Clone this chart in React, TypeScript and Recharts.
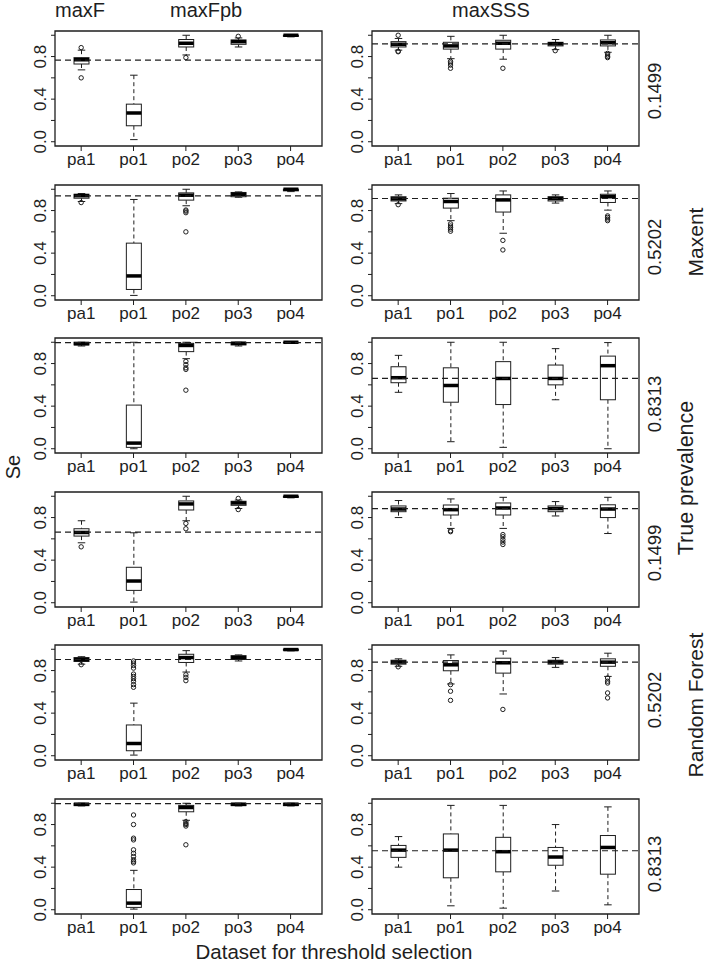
import { ComposedChart, Bar, Scatter, XAxis, YAxis, ReferenceLine, ReferenceArea } from "recharts";

const FONT = "'Liberation Sans', Arial, Helvetica, sans-serif";
const INK = "#1e1e1e";

const categories = ["pa1", "po1", "po2", "po3", "po4"];
const yTicks = [0, 0.2, 0.4, 0.6, 0.8, 1.0];
const yTickLabels = ["0.0", "", "0.4", "", "0.8", ""];
const panelTitles = ["maxF", "maxFpb", "maxSSS"];
const prevalences = ["0.1499", "0.5202", "0.8313", "0.1499", "0.5202", "0.8313"];
const models = ["Maxent", "Random Forest"];

// each box: [lower whisker, q1, median, q3, upper whisker]
const maxent1499Fpb = [
  [0.675, 0.73, 0.77, 0.79, 0.86],
  [0.02, 0.15, 0.27, 0.353, 0.625],
  [0.815, 0.89, 0.925, 0.96, 1.0],
  [0.89, 0.915, 0.94, 0.956, 0.975],
  [0.985, 0.99, 1.0, 1.0, 1.0],
];
const maxent1499FpbOut = [[0.884, 0.6], [], [0.79], [0.99], []];

const maxent1499SSS = [
  [0.86, 0.89, 0.915, 0.94, 0.97],
  [0.78, 0.87, 0.9, 0.934, 0.99],
  [0.775, 0.87, 0.925, 0.953, 1.0],
  [0.865, 0.9, 0.92, 0.934, 0.96],
  [0.84, 0.9, 0.93, 0.956, 1.0],
];
const maxent1499SSSOut = [[1.0, 0.85, 0.845], [0.755, 0.74, 0.72, 0.69], [0.69], [0.855], [0.83, 0.815, 0.8, 0.79]];

const maxent5202Fpb = [
  [0.885, 0.916, 0.94, 0.953, 0.96],
  [0.003, 0.059, 0.186, 0.494, 0.904],
  [0.845, 0.898, 0.944, 0.966, 1.0],
  [0.925, 0.93, 0.953, 0.97, 0.975],
  [0.978, 0.985, 1.0, 1.0, 1.0],
];
const maxent5202FpbOut = [[0.875], [], [0.805, 0.795, 0.78, 0.6], [], []];

const maxent5202SSS = [
  [0.865, 0.89, 0.91, 0.93, 0.947],
  [0.705, 0.823, 0.885, 0.916, 0.96],
  [0.587, 0.786, 0.9, 0.947, 0.984],
  [0.87, 0.89, 0.913, 0.93, 0.947],
  [0.804, 0.876, 0.93, 0.953, 0.984],
];
const maxent5202SSSOut = [[0.855], [0.675, 0.655, 0.64, 0.625, 0.606], [0.52, 0.43], [], [0.75, 0.736, 0.72, 0.705]];

const maxent8313Fpb = [
  [0.965, 0.975, 0.987, 1.0, 1.0],
  [0.0, 0.013, 0.053, 0.41, 1.0],
  [0.846, 0.912, 0.97, 0.99, 1.0],
  [0.965, 0.975, 0.99, 1.0, 1.0],
  [0.99, 0.995, 1.0, 1.0, 1.0],
];
const maxent8313FpbOut = [[], [], [0.82, 0.79, 0.76, 0.745, 0.55], [], []];

const maxent8313SSS = [
  [0.53, 0.62, 0.667, 0.77, 0.877],
  [0.066, 0.437, 0.594, 0.76, 1.0],
  [0.013, 0.415, 0.66, 0.818, 1.0],
  [0.46, 0.6, 0.66, 0.786, 0.94],
  [0.0, 0.46, 0.78, 0.87, 0.997],
];
const maxent8313SSSOut = [[], [], [], [], []];

const rf1499Fpb = [
  [0.563, 0.626, 0.66, 0.695, 0.77],
  [0.006, 0.116, 0.204, 0.333, 0.657],
  [0.77, 0.871, 0.928, 0.956, 1.0],
  [0.885, 0.915, 0.937, 0.953, 0.965],
  [0.985, 0.99, 1.0, 1.0, 1.0],
];
const rf1499FpbOut = [[0.525], [], [0.745, 0.695], [0.98, 0.875], []];

const rf1499SSS = [
  [0.8, 0.855, 0.88, 0.909, 0.96],
  [0.698, 0.824, 0.874, 0.918, 0.975],
  [0.698, 0.824, 0.89, 0.937, 0.99],
  [0.815, 0.855, 0.884, 0.909, 0.95],
  [0.65, 0.8, 0.88, 0.92, 0.99],
];
const rf1499SSSOut = [[], [0.676, 0.667], [0.64, 0.62, 0.594, 0.57, 0.547], [], []];

const rf5202Fpb = [
  [0.86, 0.885, 0.904, 0.922, 0.93],
  [0.006, 0.047, 0.115, 0.289, 0.494],
  [0.786, 0.876, 0.922, 0.953, 0.987],
  [0.89, 0.904, 0.922, 0.94, 0.947],
  [0.985, 0.99, 0.997, 1.0, 1.0],
];
const rf5202FpbOut = [
  [0.855],
  [0.89, 0.87, 0.848, 0.823, 0.767, 0.745, 0.724, 0.7, 0.668, 0.643],
  [0.76, 0.736, 0.705],
  [],
  [],
];

const rf5202SSS = [
  [0.84, 0.86, 0.88, 0.897, 0.91],
  [0.674, 0.798, 0.854, 0.894, 0.947],
  [0.58, 0.776, 0.873, 0.916, 0.984],
  [0.83, 0.86, 0.88, 0.897, 0.922],
  [0.745, 0.84, 0.879, 0.91, 0.963],
];
const rf5202SSSOut = [[0.835], [0.668, 0.606, 0.52], [0.435], [], [0.73, 0.7, 0.683, 0.59, 0.543]];

const rf8313Fpb = [
  [0.975, 0.978, 0.99, 1.0, 1.0],
  [0.006, 0.022, 0.062, 0.19, 0.37],
  [0.84, 0.92, 0.96, 0.98, 1.0],
  [0.975, 0.978, 0.99, 1.0, 1.0],
  [0.975, 0.978, 0.99, 1.0, 1.0],
];
const rf8313FpbOut = [
  [],
  [0.89, 0.8, 0.672, 0.656, 0.563, 0.53, 0.5, 0.47, 0.455, 0.44],
  [0.827, 0.81, 0.8, 0.786, 0.61],
  [],
  [],
];

const rf8313SSS = [
  [0.4, 0.492, 0.56, 0.604, 0.687],
  [0.037, 0.3, 0.56, 0.712, 0.98],
  [0.015, 0.356, 0.545, 0.68, 0.98],
  [0.176, 0.418, 0.495, 0.585, 0.8],
  [0.046, 0.334, 0.585, 0.697, 0.966],
];
const rf8313SSSOut = [[], [], [], [], []];

// dashed reference lines, one per row
const refFpb = [0.766, 0.938, 0.997, 0.664, 0.904, 0.997];
const refSSS = [0.92, 0.913, 0.66, 0.884, 0.879, 0.554];

const fpbPanels = [maxent1499Fpb, maxent5202Fpb, maxent8313Fpb, rf1499Fpb, rf5202Fpb, rf8313Fpb];
const fpbOutliers = [maxent1499FpbOut, maxent5202FpbOut, maxent8313FpbOut, rf1499FpbOut, rf5202FpbOut, rf8313FpbOut];
const sssPanels = [maxent1499SSS, maxent5202SSS, maxent8313SSS, rf1499SSS, rf5202SSS, rf8313SSS];
const sssOutliers = [maxent1499SSSOut, maxent5202SSSOut, maxent8313SSSOut, rf1499SSSOut, rf5202SSSOut, rf8313SSSOut];

const rowTops = [31, 185, 338, 492, 645, 799];
const colLefts = [55, 372];
const PLOT_W = 267;
const PLOT_H = 115;
const Y_AXIS_W = 45;
const X_DOMAIN: [number, number] = [0.5, 5.6];
const Y_DOMAIN: [number, number] = [-0.04, 1.04];

function BoxShape(props: any) {
  const { x, y, width, height, payload } = props;
  const [lo, q1, med, q3, hi] = payload.stats;
  const span = hi - lo;
  const toY = (v: number) => (span > 0 ? y + ((hi - v) / span) * height : y);
  const cx = x + width / 2;
  const cap = width / 4;
  return (
    <g>
      <line x1={cx} x2={cx} y1={toY(hi)} y2={toY(q3)} stroke={INK} strokeDasharray="4 3" />
      <line x1={cx} x2={cx} y1={toY(q1)} y2={toY(lo)} stroke={INK} strokeDasharray="4 3" />
      <line x1={cx - cap} x2={cx + cap} y1={toY(hi)} y2={toY(hi)} stroke={INK} />
      <line x1={cx - cap} x2={cx + cap} y1={toY(lo)} y2={toY(lo)} stroke={INK} />
      <rect x={x} y={toY(q3)} width={width} height={Math.max(toY(q1) - toY(q3), 0.5)} fill="#fff" stroke={INK} />
      <line x1={x} x2={x + width} y1={toY(med)} y2={toY(med)} stroke="#000" strokeWidth={3.5} />
    </g>
  );
}

function OutlierShape(props: any) {
  const { cx, cy } = props;
  if (cx == null || cy == null || Number.isNaN(cy)) return <g />;
  return <circle cx={cx} cy={cy} r={2.2} fill="none" stroke={INK} strokeWidth={1} />;
}

function YTick(props: any) {
  const { x, y, payload } = props;
  const idx = yTicks.indexOf(payload.value);
  const label = idx >= 0 ? yTickLabels[idx] : "";
  const bx = x - 4;
  return (
    <text x={bx} y={y} transform={`rotate(-90, ${bx}, ${y})`} textAnchor="middle" fontSize={17} fontFamily={FONT} fill={INK}>
      {label}
    </text>
  );
}

function Panel({ stats, outliers, refValue, left, top }: any) {
  const data = categories.map((name, i) => ({
    x: i + 1,
    name,
    range: [stats[i][0], stats[i][4]],
    stats: stats[i],
  }));
  const outData = outliers.flatMap((vals: number[], i: number) => vals.map((v) => ({ x: i + 1, v })));
  return (
    <div style={{ position: "absolute", left: left - Y_AXIS_W, top: top - 10 }}>
      <ComposedChart
        width={Y_AXIS_W + PLOT_W + 10}
        height={10 + PLOT_H + 35}
        data={data}
        margin={{ top: 10, right: 10, bottom: 5, left: 0 }}
      >
        <XAxis
          type="number"
          dataKey="x"
          domain={X_DOMAIN}
          ticks={[1, 2, 3, 4, 5]}
          interval={0}
          height={30}
          axisLine={false}
          tickLine={{ stroke: INK }}
          tickSize={5}
          tickMargin={2}
          tickFormatter={(v: number) => categories[v - 1]}
          tick={{ fontSize: 17, fill: INK, fontFamily: FONT }}
        />
        <YAxis
          type="number"
          domain={Y_DOMAIN}
          ticks={yTicks}
          interval={0}
          width={Y_AXIS_W}
          axisLine={false}
          tickLine={{ stroke: INK }}
          tickSize={4}
          tickMargin={1}
          tick={<YTick />}
        />
        <ReferenceArea x1={X_DOMAIN[0]} x2={X_DOMAIN[1]} y1={Y_DOMAIN[0]} y2={Y_DOMAIN[1]} fill="none" stroke={INK} strokeWidth={1.3} />
        <Bar dataKey="range" barSize={15} shape={BoxShape} isAnimationActive={false} />
        {outData.length > 0 && <Scatter data={outData} dataKey="v" shape={OutlierShape} isAnimationActive={false} />}
        <ReferenceLine y={refValue} stroke={INK} strokeDasharray="6 4" strokeWidth={1.2} />
      </ComposedChart>
    </div>
  );
}

const prevCenters = [91, 247, 404, 553, 700, 864];

export default function App() {
  return (
    <div style={{ position: "absolute", left: 0, top: 0, width: 709, height: 968, background: "#fff" }}>
      {rowTops.map((top, r) => (
        <Panel key={`l${r}`} stats={fpbPanels[r]} outliers={fpbOutliers[r]} refValue={refFpb[r]} left={colLefts[0]} top={top} />
      ))}
      {rowTops.map((top, r) => (
        <Panel key={`r${r}`} stats={sssPanels[r]} outliers={sssOutliers[r]} refValue={refSSS[r]} left={colLefts[1]} top={top} />
      ))}
      <svg width={709} height={968} style={{ position: "absolute", left: 0, top: 0, pointerEvents: "none" }} fontFamily={FONT} fill={INK}>
        <text x={55} y={17} fontSize={20}>{panelTitles[0]}</text>
        <text x={170} y={17} fontSize={20}>{panelTitles[1]}</text>
        <text x={452} y={17} fontSize={20}>{panelTitles[2]}</text>
        {prevalences.map((p, i) => (
          <text key={i} x={661} y={prevCenters[i]} transform={`rotate(-90, 661, ${prevCenters[i]})`} textAnchor="middle" fontSize={18.5}>
            {p}
          </text>
        ))}
        <text x={703} y={242} transform="rotate(-90, 703, 242)" textAnchor="middle" fontSize={21}>{models[0]}</text>
        <text x={693} y={478} transform="rotate(-90, 693, 478)" textAnchor="middle" fontSize={21.5}>True prevalence</text>
        <text x={703} y={705} transform="rotate(-90, 703, 705)" textAnchor="middle" fontSize={21}>{models[1]}</text>
        <text x={20} y={467} transform="rotate(-90, 20, 467)" textAnchor="middle" fontSize={20}>Se</text>
        <text x={334} y={959} textAnchor="middle" fontSize={20.5}>Dataset for threshold selection</text>
      </svg>
    </div>
  );
}
